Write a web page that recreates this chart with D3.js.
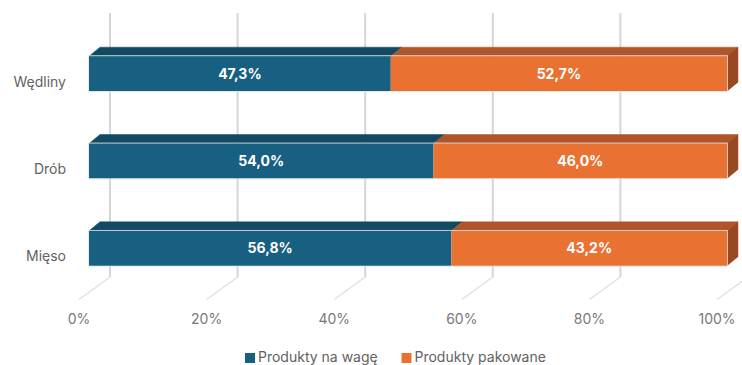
<!DOCTYPE html>
<html>
<head>
<meta charset="utf-8">
<script src="https://cdn.jsdelivr.net/npm/d3@7"></script>
<style>
  html, body { margin: 0; padding: 0; background: #fff; }
  svg { display: block; font-family: Inter, "Open Sans", sans-serif; }
</style>
</head>
<body>
<svg id="chart" width="742" height="365"></svg>
<script>
// Categories (top to bottom) and the share of each product type
const categories = ["Wędliny", "Drób", "Mięso"];
const seriesNames = ["Produkty na wagę", "Produkty pakowane"];
const naWage = [47.3, 54.0, 56.8];
const pakowane = [52.7, 46.0, 43.2];
const tickValues = [0, 20, 40, 60, 80, 100];

const colors = {
  front: ["#176082", "#E97232"],
  top: ["#134A63", "#B0552A"],
  side: ["#9A4820"]
};

const svg = d3.select("#chart");

// Front plane of the bars
const x = d3.scaleLinear().domain([0, 100]).range([89, 727]);
const y = d3.scaleBand().domain(categories).range([30, 292]).paddingInner(0.6).paddingOuter(0.3);

// Oblique depth offsets
const barDepth = { dx: 11, dy: 9 };   // bar top / side faces
const wallShift = 21;                 // back wall relative to bar front
const floorShift = -10;               // floor front edge relative to bar front
const wallTop = 13, wallBottom = 277, floorFront = 299.5;

// Gridlines: vertical on the back wall, then diagonal across the floor
const grid = svg.append("g").attr("class", "grid");
tickValues.forEach(t => {
  const xb = x(t) + wallShift;
  const xf = x(t) + floorShift;
  grid.append("line")
    .attr("x1", xb).attr("x2", xb)
    .attr("y1", wallTop).attr("y2", wallBottom)
    .attr("stroke", "#d6d6d6").attr("stroke-width", 2);
  grid.append("line")
    .attr("x1", xb).attr("y1", wallBottom)
    .attr("x2", xf).attr("y2", floorFront)
    .attr("stroke", "#e0e0e0").attr("stroke-width", 1.3);
});

// Tick labels under the floor
svg.append("g").selectAll("text")
  .data(tickValues)
  .join("text")
  .attr("x", d => x(d) + floorShift)
  .attr("y", 324)
  .attr("text-anchor", "middle")
  .attr("fill", "#787878")
  .attr("font-size", 14)
  .text(d => d + "%");

// Category labels
svg.append("g").selectAll("text")
  .data(categories)
  .join("text")
  .attr("x", 66)
  .attr("y", d => y(d) + y.bandwidth() / 2 + 13)
  .attr("text-anchor", "end")
  .attr("fill", "#626262")
  .attr("font-size", 14)
  .text(d => d);

// Stacked data
const rows = categories.map((c, i) => ({ cat: c, values: [naWage[i], pakowane[i]] }));
const fmt = v => v.toFixed(1).replace(".", ",") + "%";
const { dx, dy } = barDepth;

const bars = svg.append("g").attr("class", "bars");
rows.forEach(r => {
  const y0 = y(r.cat), y1 = y0 + y.bandwidth();
  const g = bars.append("g");
  let acc = 0;
  const segs = r.values.map((v, k) => {
    const s = { k, v, a: acc, b: acc + v };
    acc += v;
    return s;
  });
  // top faces
  segs.forEach(s => {
    const xa = x(s.a), xb = x(s.b);
    g.append("path")
      .attr("d", `M${xa},${y0}L${xa + dx},${y0 - dy}L${xb + dx},${y0 - dy}L${xb},${y0}Z`)
      .attr("fill", colors.top[s.k])
      .attr("stroke", colors.top[s.k]).attr("stroke-width", 0.5);
  });
  // right side face of the last segment
  const last = segs[segs.length - 1];
  const xe = x(last.b);
  g.append("path")
    .attr("d", `M${xe},${y0}L${xe + dx},${y0 - dy}L${xe + dx},${y1 - dy}L${xe},${y1}Z`)
    .attr("fill", colors.side[0])
    .attr("stroke", colors.side[0]).attr("stroke-width", 0.5);
  // front faces
  segs.forEach(s => {
    g.append("rect")
      .attr("x", x(s.a)).attr("y", y0)
      .attr("width", x(s.b) - x(s.a)).attr("height", y1 - y0)
      .attr("fill", colors.front[s.k]);
  });
  // thin light outline around the front
  g.append("rect")
    .attr("x", x(0) - 0.5).attr("y", y0 - 0.5)
    .attr("width", x(acc) - x(0) + 1).attr("height", y1 - y0 + 1)
    .attr("fill", "none").attr("stroke", "#e6e6e6").attr("stroke-width", 0.8);
  // value labels
  segs.forEach(s => {
    g.append("text")
      .attr("x", (x(s.a) + x(s.b)) / 2)
      .attr("y", (y0 + y1) / 2 + 5)
      .attr("text-anchor", "middle")
      .attr("fill", "#ffffff")
      .attr("font-weight", "bold")
      .attr("font-size", 14)
      .text(fmt(s.v));
  });
});

// Legend
const legend = svg.append("g").attr("class", "legend");
const legendX = [245, 401.5];
seriesNames.forEach((n, k) => {
  legend.append("rect")
    .attr("x", legendX[k]).attr("y", 353)
    .attr("width", 10).attr("height", 10)
    .attr("fill", colors.front[k]);
  legend.append("text")
    .attr("x", legendX[k] + 13).attr("y", 362)
    .attr("fill", "#626262")
    .attr("font-size", 14)
    .text(n);
});
</script>
</body>
</html>
